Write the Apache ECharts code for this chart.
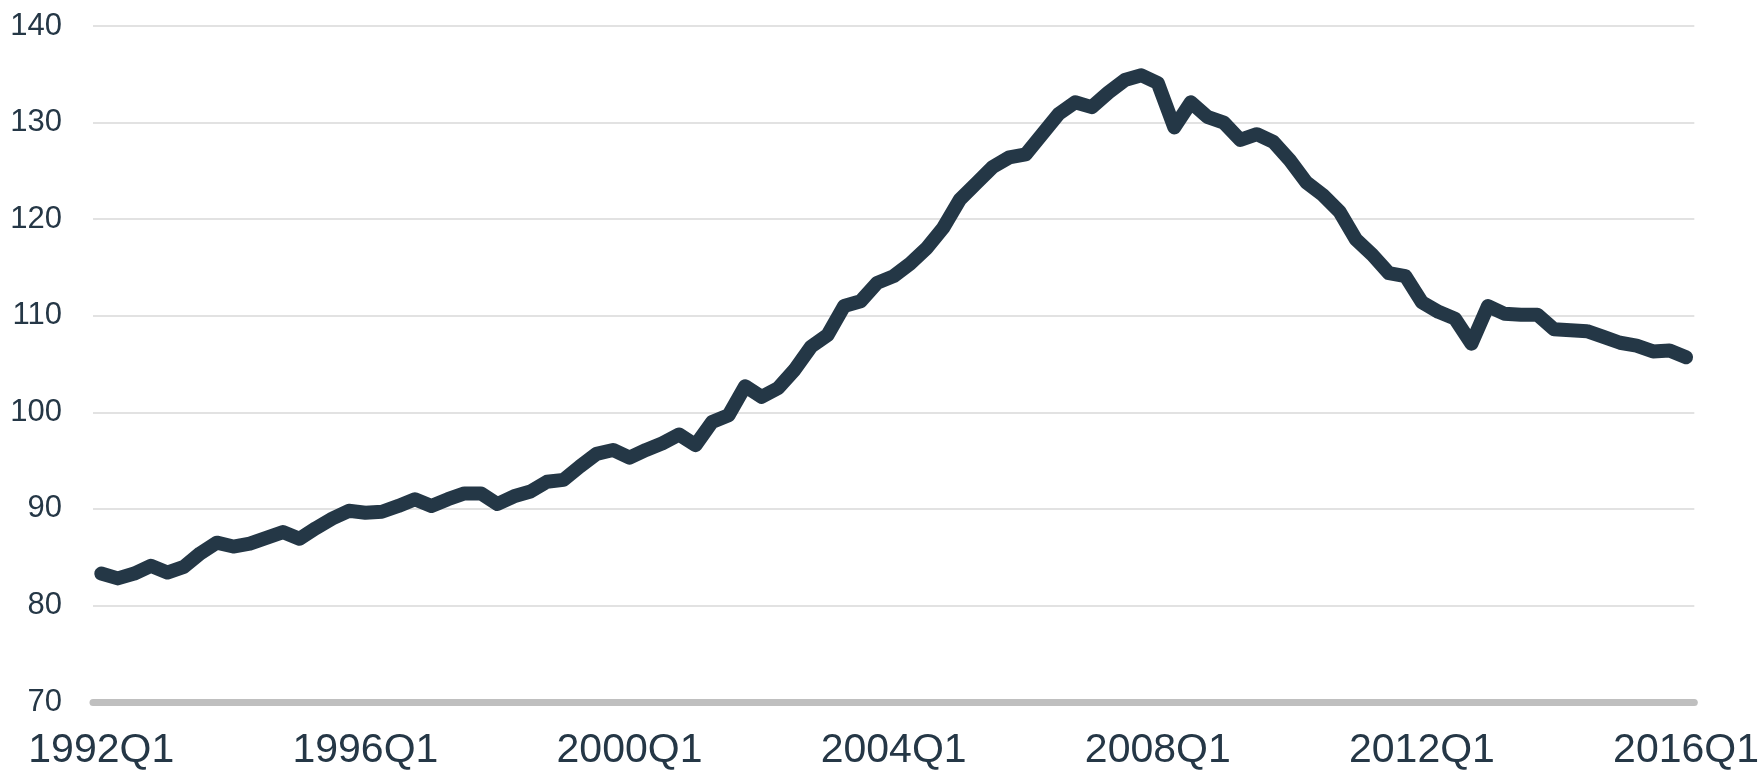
<!DOCTYPE html>
<html>
<head>
<meta charset="utf-8">
<script src="https://cdn.jsdelivr.net/npm/echarts@6/dist/echarts.min.js"></script>
<style>
  html, body { margin: 0; padding: 0; background: #fff; }
  #main { width: 1762px; height: 771px; }
</style>
</head>
<body>
<div id="main"></div>
<script>
// Quarterly index, 1992Q1 .. 2016Q1
var firstYear = 1992;
var lastYear = 2016;

var quarters = [];
for (var y = firstYear; y <= lastYear; y++) {
  for (var q = 1; q <= 4; q++) {
    if (y === lastYear && q > 1) break;
    quarters.push(y + 'Q' + q);
  }
}

var indexValues = [
  83.3, 82.8, 83.3, 84.1, 83.4, 84.0, 85.4, 86.5, 86.1, 86.4, 87.0, 87.6, 86.9, 88.0, 89.0, 89.8,
  89.6, 89.7, 90.3, 91.0, 90.3, 91.0, 91.6, 91.6, 90.5, 91.3, 91.8, 92.8, 93.0, 94.4, 95.7, 96.1,
  95.3, 96.1, 96.8, 97.7, 96.6, 99.0, 99.7, 102.7, 101.6, 102.5, 104.4, 106.8, 108.0, 111.0, 111.5, 113.4,
  114.1, 115.4, 117.0, 119.1, 122.0, 123.7, 125.4, 126.4, 126.7, 128.8, 130.9, 132.1, 131.6, 133.1, 134.4, 134.9,
  134.1, 129.5, 132.1, 130.6, 130.0, 128.2, 128.8, 128.0, 126.1, 123.8, 122.5, 120.8, 117.9, 116.3, 114.4, 114.1,
  111.4, 110.4, 109.7, 107.1, 111.0, 110.2, 110.1, 110.1, 108.6, 108.5, 108.4, 107.8, 107.2, 106.9, 106.3, 106.4,
  105.7
];

var yMin = 70;
var yMax = 140;
var yStep = 10;

var textColor = '#253746';

var chart = echarts.init(document.getElementById('main'));

chart.setOption({
  animation: false,
  grid: {
    left: 93,
    right: 66,
    top: 26,
    bottom: 69
  },
  xAxis: {
    type: 'category',
    data: quarters,
    boundaryGap: true,
    axisLine: {
      show: true,
      lineStyle: { color: '#BFBFBF', width: 7 }
    },
    axisTick: { show: false },
    axisLabel: {
      interval: 15,
      margin: 28,
      color: textColor,
      fontFamily: 'Liberation Sans, Arial, sans-serif',
      fontSize: 41
    },
    splitLine: { show: false }
  },
  yAxis: {
    type: 'value',
    min: yMin,
    max: yMax,
    interval: yStep,
    axisLine: { show: false },
    axisTick: { show: false },
    axisLabel: {
      margin: 31,
      color: textColor,
      fontFamily: 'Liberation Sans, Arial, sans-serif',
      fontSize: 31
    },
    splitLine: {
      show: true,
      lineStyle: { color: '#D9D9D9', width: 1.5 }
    }
  },
  series: [
    {
      type: 'line',
      data: indexValues,
      showSymbol: false,
      symbol: 'none',
      lineStyle: {
        color: '#243746',
        width: 14,
        cap: 'round',
        join: 'round'
      },
      z: 3
    }
  ]
});

window.addEventListener('resize', function () {
  chart.resize();
});
</script>
</body>
</html>
